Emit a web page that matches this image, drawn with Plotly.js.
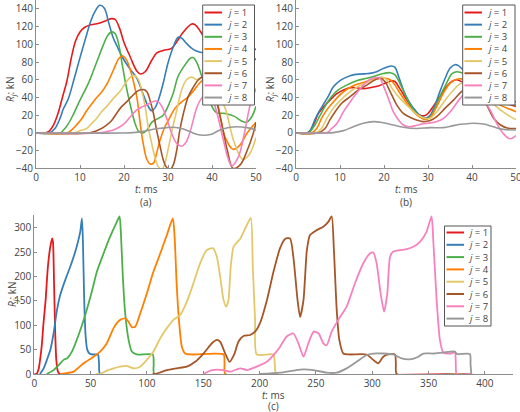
<!DOCTYPE html>
<html>
<head>
<meta charset="utf-8">
<script src="https://cdn.plot.ly/plotly-3.0.1.min.js"></script>
<style>
  html, body { margin: 0; padding: 0; background: #fff; }
  #chart { width: 520px; height: 412px; }
</style>
</head>
<body>
<div id="chart"></div>
<script>
// Support reactions R_j (kN) of the eight supports j = 1..8 versus time t (ms)

const seriesNumbers = ['1', '2', '3', '4', '5', '6', '7', '8'];
const seriesColors = ['#e41a1c', '#377eb8', '#4daf4a', '#ff7f00', '#e3c86a', '#a65628', '#f781bf', '#999999'];

// ---- panel (a) ----
const a1t = [0, 2, 3, 4, 5, 6, 7, 8, 9, 10, 11, 12.5, 14.5, 16, 17.2, 18, 19, 20, 21.4, 22.9, 23.8, 24.8, 26.3, 27.4, 28.9, 30.8, 32, 33.5, 35.4, 36.2, 37.3, 38.5, 40, 42, 44, 46, 48, 50];
const a1r = [0, 0, 2, 9, 22, 40, 58, 84, 104, 114, 119, 122, 124, 127, 129, 128, 118, 102, 86, 70, 66.5, 69, 82, 90, 93, 95.5, 103, 114, 123, 122, 115, 106, 100, 95, 90, 86, 88, 95];

const a2t = [0, 3, 4.3, 5.5, 6.2, 7.3, 8.5, 10, 11.4, 12.3, 13.3, 14.5, 15.5, 16.5, 17.5, 18.5, 19.8, 21.4, 22.9, 24.4, 25.5, 26.3, 27, 27.8, 28.9, 30, 31.2, 32.3, 33.1, 34.2, 35.8, 37.3, 38.5, 41, 44, 47, 48.5, 50];
const a2r = [0, 0, 5, 17, 27, 38, 58, 85, 109, 124, 136, 144, 141, 125, 108, 97, 84, 72, 62, 43, 30, 25, 28, 37, 56, 79, 97, 108, 107, 101, 94, 91, 90, 88, 85, 80, 78, 84];

const a3t = [0, 5.5, 6.2, 7.3, 8.5, 10, 11.9, 13.8, 15.2, 16.3, 17.2, 18, 18.8, 19.5, 20.4, 21.4, 22.5, 23.3, 24.3, 25.2, 26.3, 27.8, 28.9, 30, 31.2, 32.3, 33.9, 35, 35.7, 36.5, 37.6, 38.8, 39.8, 41, 43, 45, 46.5, 47.8, 49, 50];
const a3r = [0, 0, 3, 10, 21, 37, 56, 80, 98, 110, 114, 112, 100, 80, 55, 32, 11, 2, 0, 3, 12, 16.5, 20, 30, 45, 64, 77, 84, 85, 80, 65, 48, 32, 23, 22, 19, 14, 12, 18, 30];

const a4t = [0, 7, 8, 9.2, 10.4, 11.5, 12.7, 13.8, 14.9, 16.1, 17.6, 18.7, 19.6, 20.5, 21.5, 22.3, 23, 23.7, 24.4, 25.2, 25.9, 26.7, 27.4, 28.2, 29.3, 30.5, 31.6, 33.1, 34.2, 35.4, 36.5, 37.5, 38.5, 39.5, 40.5, 41.5, 43, 44.8, 46.3, 48, 50];
const a4r = [0, 0, 3, 9, 16, 25, 33, 40, 46, 55, 71, 83, 87, 83, 70, 55, 38, 10, -13, -30, -35, -34, -23, -8, 7, 18, 28, 35, 39, 45, 52, 58, 61, 57, 45, 28, -5, -18.5, -14, 0, 12];

const a5t = [0, 8.5, 10, 11.5, 12.7, 13.8, 14.9, 16.1, 17.6, 19.1, 20.6, 21.7, 22.5, 23.3, 24, 24.8, 25.5, 26.3, 27, 27.8, 28.6, 29.3, 30, 30.8, 32, 33.1, 34.2, 35.4, 36.5, 37.6, 39, 41, 43, 45, 47, 48.5, 50];
const a5r = [0, 0, 2.6, 5, 11, 16.5, 24, 30, 39, 47, 58, 64, 64.5, 60, 48.5, 30, 7, -12, -27, -38, -41, -34, -19, 0, 26, 48.5, 60, 63, 60, 62, 60, 48, 28, -10, -30, -24, -5];

const a6t = [0, 12, 13.8, 14.9, 16.1, 17.2, 18.3, 19.5, 20.6, 21.7, 22.9, 23.6, 24.4, 25.2, 25.9, 26.7, 27.4, 28.2, 28.9, 29.7, 30.5, 31.2, 32, 32.7, 33.5, 34.6, 35.8, 36.9, 37.8, 39, 40.5, 42, 43.5, 44.8, 46.4, 47.9, 49.4, 50];
const a6r = [0, 0, 2.6, 5, 9, 14, 22, 30, 35, 41, 46.6, 48.5, 49, 46.6, 37, 22, 3.4, -15, -30, -39, -41, -36, -19, 3.4, 22, 41, 52, 60, 63, 60, 45, 15, -20, -40, -36, -21, 0, 12];

const a7t = [0, 14, 16.1, 17.6, 19.1, 20.2, 21.4, 22.9, 24.4, 25.9, 27, 27.8, 28.6, 29.7, 30.8, 32, 33.1, 33.9, 34.6, 35.4, 36.5, 37.6, 39, 40, 41, 42.6, 43.6, 44.5, 46, 47.5, 48.6, 50];
const a7r = [0, 0, 1.5, 3.4, 7, 11, 18, 26, 30, 33.5, 36, 35, 30, 16.5, 0, -12, -15, -12, -5, 8, 28, 39, 45, 40, 25, -8, -28, -37, -27, 3, 30, 50];

const a8t = [0, 20, 22.1, 24, 25.9, 27.8, 29.7, 31.2, 33.1, 35, 36.5, 38, 39.9, 41.8, 44.1, 45.6, 47.9, 50];
const a8r = [0, 0, 0.4, 1.5, 3.4, 5, 6, 6.4, 5, 1.5, -1.5, -2.6, -1.5, 3.4, 6.4, 7, 6, 3.4];

// ---- panel (b) ----
const b1t = [0, 2.5, 3.3, 4.3, 5.1, 6.2, 7.7, 9.2, 10.8, 12.3, 13.8, 15.3, 16.8, 18.7, 20.2, 21.7, 22.5, 23.6, 25.2, 26.7, 28.2, 29.3, 30, 31.2, 32.7, 34.2, 35.4, 36.5, 37.6, 39, 41, 43, 45, 47, 48.5, 50];
const b1r = [0, 0, 3, 13, 22, 29, 37, 44, 48.5, 51, 51, 50, 51, 53, 56, 58.7, 58, 50, 37, 26, 20, 19.6, 22, 30, 41, 52, 58, 60, 58, 55, 50, 45, 40, 35, 32, 30];

const b2t = [0, 2.5, 3.2, 4.3, 5.1, 6.2, 7.3, 8.5, 10, 11.5, 13, 15.3, 17.2, 18.3, 19.5, 20.6, 21.7, 22.5, 23.3, 24.4, 25.5, 26.7, 27.8, 28.9, 29.7, 30.5, 31.6, 32.7, 33.9, 35, 36.1, 36.9, 37.8, 39, 41, 43, 45, 47, 48.5, 50];
const b2r = [0, 0, 2.6, 15, 23, 32, 41, 52, 59, 63, 65.5, 66.6, 67.5, 69, 72, 74, 75.6, 74, 64, 48.5, 37, 28, 21.4, 17.7, 17, 20, 31.6, 46.6, 61.7, 73, 77, 76, 72, 68, 60, 52, 45, 40, 37, 35];

const b3t = [0, 2.8, 4.3, 5.5, 6.6, 8.1, 9.6, 11.5, 13.8, 16.1, 18, 19.8, 21.4, 22.5, 23.6, 25.2, 26.7, 28.2, 29.3, 30.5, 31.6, 32.7, 34.2, 35.4, 36.5, 37.6, 39, 41, 43, 45, 47, 48.5, 50];
const b3r = [0, 0, 9, 20, 30, 41, 48.5, 54, 59, 61.7, 64.3, 67, 68, 65.5, 56, 39, 26, 18.4, 15.4, 17.7, 28, 41, 56, 66.6, 69, 68, 66, 60, 52, 44, 38, 34, 31];

const b4t = [0, 3.5, 4.7, 5.8, 7, 8.5, 10, 11.5, 13.4, 15.3, 17.2, 18.7, 20.2, 21.4, 22.5, 23.6, 25.2, 26.7, 28.2, 29.3, 30.5, 32, 33.5, 35, 36.5, 37.6, 39, 41, 43, 45, 47, 48.5, 50];
const b4r = [0, 0, 5, 16.5, 26, 35, 43, 49, 54, 57, 60, 61.3, 61.7, 60, 54, 45, 33.5, 24, 17.7, 15.4, 17.7, 30, 45, 56, 60.5, 61, 58, 52, 44, 36, 30, 27, 24];

const b5t = [0, 4.5, 5.8, 7, 8.5, 10, 11.9, 13.8, 16.1, 18, 19.5, 20.6, 22.1, 24, 25.9, 27.8, 29.3, 30.5, 32, 33.9, 35.8, 37.6, 39, 41, 43, 45, 47, 48.5, 50];
const b5r = [0, 0, 5, 16.5, 28, 36.5, 45, 51.5, 57, 60.5, 63, 60, 48.5, 37, 28, 20, 16.5, 16.5, 24, 37, 48.5, 56, 55, 48, 40, 32, 24, 19, 15];

const b6t = [0, 5, 6.6, 7.7, 8.9, 10.4, 12.3, 14.2, 16.1, 18, 19.1, 20.2, 21.4, 22.9, 24.4, 25.9, 27.4, 28.9, 30.5, 32, 33.9, 35.8, 37.6, 39, 40.5, 42, 43.5, 45, 46.5, 48, 50];
const b6r = [0, 0, 5, 14.7, 24, 33.5, 41, 48.5, 54, 60, 61.7, 58, 46.6, 31.6, 22, 17.7, 14.7, 12.8, 14, 18.4, 28, 37, 46.6, 52, 54, 45, 30, 16, 9, 5.5, 5];

const b7t = [0, 6.5, 7.3, 8.1, 9.2, 10.8, 12.3, 13.8, 15.3, 16.8, 18.3, 19.1, 19.8, 21, 22.1, 23.3, 24.4, 25.5, 27, 28.6, 30, 32, 33.5, 35.4, 37.3, 38.5, 40, 41.5, 43, 44.1, 45.5, 47, 48.6, 50];
const b7r = [0, 0, 1, 5, 10, 24, 35, 45, 54, 60.5, 62.5, 61.7, 54, 39, 24, 14.7, 9, 7, 8, 10, 11, 12.8, 16.5, 26, 39, 45, 47, 42, 34, 26, 12, 0, -6.5, -3];

const b8t = [0, 7, 8.5, 10.8, 13, 15.3, 17.6, 19.8, 22.1, 24.4, 27.4, 30.5, 33.5, 35.8, 38, 40.3, 42.6, 44.8, 47.1, 50];
const b8r = [0, 0, 0.4, 2.6, 7, 11, 12.8, 11.6, 9, 6.4, 5, 6, 6, 8.3, 10, 11, 10, 7, 4, 3.4];

// ---- panel (c) ----
const c1t = [0, 2, 4, 6, 7, 8, 10, 12, 14, 15.8, 16.6, 17.5, 18.5, 19.5, 21, 23, 388];
const c1r = [0, 0, 12, 45, 68, 100, 150, 218, 258, 278, 270, 190, 90, 30, 5, 0, 0];

const c2t = [5, 8.3, 11.2, 14.2, 17.1, 20.1, 23, 27.5, 31.9, 36.4, 40.8, 42.3, 43.2, 44.3, 45.5, 47, 49, 52, 56.5, 57.5, 58.5, 388];
const c2r = [0, 11.6, 29, 49, 83, 131, 162, 193, 220, 251, 292, 319, 268, 152, 80, 50, 42, 40, 40, 20, 0, 0];

const c3t = [11, 17.1, 21.6, 26, 29, 33.4, 39.3, 45.2, 51.1, 55.6, 61.5, 67.4, 73.3, 75.7, 76.9, 78.6, 80.7, 83.7, 86.6, 91, 105.2, 106, 106.6, 388];
const c3r = [0, 8, 18, 29, 32, 46, 80, 121, 169, 210, 247, 282, 312, 323, 288, 200, 124, 70, 46, 40, 40, 20, 0, 0];

const c4t = [23, 34.9, 43.8, 52.6, 58.5, 64.4, 70.4, 76.3, 80.7, 83.7, 86.6, 89.6, 94, 99.9, 105.8, 111.8, 117.7, 123, 124.7, 126.5, 128.9, 131, 133.9, 140, 168, 168.9, 169.6, 388];
const c4r = [0, 5, 22, 35.5, 46, 63, 94, 111, 114, 107, 96, 97, 124, 165, 210, 247, 285, 319, 275, 179, 97, 56, 42, 40, 40, 20, 0, 0];

const c5t = [55, 58.5, 64.4, 70.4, 76.3, 82.2, 88.1, 94, 99.9, 105.8, 111.8, 117.7, 123.6, 129.5, 135.4, 141.3, 147.2, 153.1, 158.5, 162, 165, 168, 170.3, 172.4, 174.4, 177, 183, 188.6, 192.2, 194, 196, 197.5, 212.3, 213.5, 215, 388];
const c5r = [0, 0, 7, 11.6, 15, 16.4, 11.6, 15, 29, 46, 73, 94, 111, 121, 148, 186, 227, 254, 258, 241, 200, 152, 138, 152, 220, 261, 278, 305, 320, 220, 111, 40, 40, 20, 0, 0];

const c6t = [105, 108.8, 117.7, 126.5, 135.4, 142.8, 150.2, 157.7, 162.1, 165.1, 169.5, 173.3, 177.3, 181.2, 185.7, 191.6, 196, 200.5, 206.4, 212.4, 218.2, 222.6, 227.1, 230, 233.7, 236, 239, 242, 244.8, 250.7, 256.6, 261, 264, 266, 268.5, 270.8, 274.4, 280.3, 295, 299.4, 305.4, 309.8, 314.2, 320.2, 321, 321.7, 388];
const c6r = [0, 1, 8, 11.6, 15, 25, 42, 63, 70, 66, 42, 25, 39, 66, 78, 80, 87, 105, 150, 210, 258, 277, 278, 240, 152, 117, 152, 254, 285, 295, 302, 312, 323, 254, 131, 70, 42, 40, 40, 32, 22, 35.5, 40, 40, 20, 0, 0];

const c7t = [150, 157.7, 168, 173.9, 182.7, 188.6, 197.5, 206.4, 215, 218.2, 224.1, 230, 234.5, 239, 243.3, 248, 252.5, 256.6, 259.6, 264, 269.9, 277.3, 284.7, 292.1, 298, 301, 303.9, 307.5, 310.5, 313.4, 315.8, 318.7, 324.6, 330.6, 336.5, 342.4, 348.3, 352.7, 354.2, 357.2, 360.1, 363.1, 369, 373.4, 374.2, 375, 388];
const c7r = [0, 8, 8, 4.8, 11.6, 8, 15, 25, 46, 56, 77, 83, 63, 35.5, 63, 87, 83, 63, 59, 87, 111, 138, 186, 227, 247, 249, 227, 165, 128, 165, 240, 251, 254, 256, 261, 271, 292, 323, 275, 152, 70, 44, 42, 44, 20, 0, 0];

const c8t = [200, 218, 230, 239, 248, 259.6, 268.5, 277.3, 286.2, 295, 301, 309.8, 318.7, 326.1, 333.5, 341, 345.4, 354.2, 363, 373.4, 375, 386.7, 387.3, 388];
const c8r = [0, 2.7, 7, 9.6, 8, 2.7, 2.7, 11.6, 25, 39, 42, 42, 40, 32, 30, 35.5, 42, 42, 44, 46, 41, 41, 20, 0];

const panelA = [[a1t, a1r], [a2t, a2r], [a3t, a3r], [a4t, a4r], [a5t, a5r], [a6t, a6r], [a7t, a7r], [a8t, a8r]];
const panelB = [[b1t, b1r], [b2t, b2r], [b3t, b3r], [b4t, b4r], [b5t, b5r], [b6t, b6r], [b7t, b7r], [b8t, b8r]];
const panelC = [[c1t, c1r], [c2t, c2r], [c3t, c3r], [c4t, c4r], [c5t, c5r], [c6t, c6r], [c7t, c7r], [c8t, c8r]];

const FONT = '"Open Sans", "Noto Sans", sans-serif';
const TEXT = '#444';
const AXIS = '#8c8c8c';
const W = 520, H = 412;
const px = v => v / W;          // page pixels -> paper x
const py = v => 1 - v / H;      // page pixels -> paper y

const traces = [];
function addPanel(panel, xa, ya, width, smoothing) {
  panel.forEach(([t, r], i) => {
    traces.push({
      type: 'scatter', mode: 'lines', x: t, y: r,
      xaxis: xa, yaxis: ya, showlegend: false, hoverinfo: 'skip',
      name: 'j = ' + seriesNumbers[i],
      line: { color: seriesColors[i], width: width, shape: 'spline', smoothing: smoothing }
    });
  });
}
addPanel(panelA, 'x', 'y', 1.6, 1);
addPanel(panelB, 'x2', 'y2', 1.6, 1);
addPanel(panelC, 'x3', 'y3', 1.8, 0.6);

const axisBase = {
  showline: true, linecolor: AXIS, linewidth: 1,
  ticks: 'inside', ticklen: 3, tickcolor: AXIS, tickwidth: 1,
  showgrid: false, zeroline: false, fixedrange: true,
  ticklabeloverflow: 'allow',
  tickfont: { family: FONT, size: 10, color: TEXT }
};

const shapes = [];
const annotations = [];

// framed legend boxes listing j = 1 .. 8
function addLegend(left, top, right, bottom, firstY, step, lineX0, lineX1, textX, fontSize) {
  shapes.push({ type: 'rect', xref: 'paper', yref: 'paper',
    x0: px(left), x1: px(right), y0: py(bottom), y1: py(top),
    line: { color: '#555', width: 1 }, fillcolor: '#fff' });
  seriesNumbers.forEach((n, i) => {
    const yy = firstY + step * i;
    shapes.push({ type: 'line', xref: 'paper', yref: 'paper',
      x0: px(lineX0), x1: px(lineX1), y0: py(yy), y1: py(yy),
      line: { color: seriesColors[i], width: 2 } });
    annotations.push({ xref: 'paper', yref: 'paper', x: px(textX), y: py(yy),
      xanchor: 'left', yanchor: 'middle', showarrow: false, borderpad: 0,
      text: '<i>j</i> = ' + n, font: { family: FONT, size: fontSize, color: TEXT } });
  });
}
addLegend(202.7, 5, 254.5, 105, 12.5, 12.15, 204.5, 222, 225.5, 9.5);
addLegend(462.7, 5, 515, 105, 12.5, 12.15, 464.5, 482, 485.5, 9.5);
addLegend(444.5, 226, 491, 326, 232.5, 12.3, 446.5, 464, 467, 9.5);

function label(x, y, text, angle) {
  annotations.push({ xref: 'paper', yref: 'paper', x: px(x), y: py(y),
    xanchor: 'center', yanchor: 'middle', showarrow: false, textangle: angle || 0,
    borderpad: 0, text: text, font: { family: FONT, size: 10, color: TEXT } });
}
const yTitle = '<i>R</i><sub><i>j</i></sub>: kN';
const xTitle = '<i>t</i>: ms';
label(10, 89, yTitle, -90);
label(270, 89, yTitle, -90);
label(12, 294, yTitle, -90);
label(146, 189, xTitle);
label(406, 189, xTitle);
label(273, 394.5, xTitle);
label(146, 202.5, '(a)');
label(406, 202.5, '(b)');
label(273, 405.5, '(c)');

const layout = {
  width: W, height: H,
  margin: { l: 0, r: 0, t: 0, b: 0 },
  paper_bgcolor: '#fff', plot_bgcolor: '#fff',
  showlegend: false,
  font: { family: FONT, color: TEXT },
  xaxis: Object.assign({}, axisBase, { domain: [36 / W, 256 / W], range: [0, 50], dtick: 10, anchor: 'y' }),
  yaxis: Object.assign({}, axisBase, { domain: [1 - 168.4 / H, 1], range: [-40, 150], dtick: 20, anchor: 'x' }),
  xaxis2: Object.assign({}, axisBase, { domain: [296 / W, 516 / W], range: [0, 50], dtick: 10, anchor: 'y2' }),
  yaxis2: Object.assign({}, axisBase, { domain: [1 - 168.4 / H, 1], range: [-40, 150], dtick: 20, anchor: 'x2' }),
  xaxis3: Object.assign({}, axisBase, { domain: [34.3 / W, 513 / W], range: [0, 425], dtick: 50, anchor: 'y3' }),
  yaxis3: Object.assign({}, axisBase, { domain: [1 - 374 / H, 1 - 215 / H], range: [0, 326], dtick: 50, anchor: 'x3' }),
  shapes: shapes,
  annotations: annotations
};

Plotly.newPlot('chart', traces, layout, { displayModeBar: false, staticPlot: true });
</script>
</body>
</html>
